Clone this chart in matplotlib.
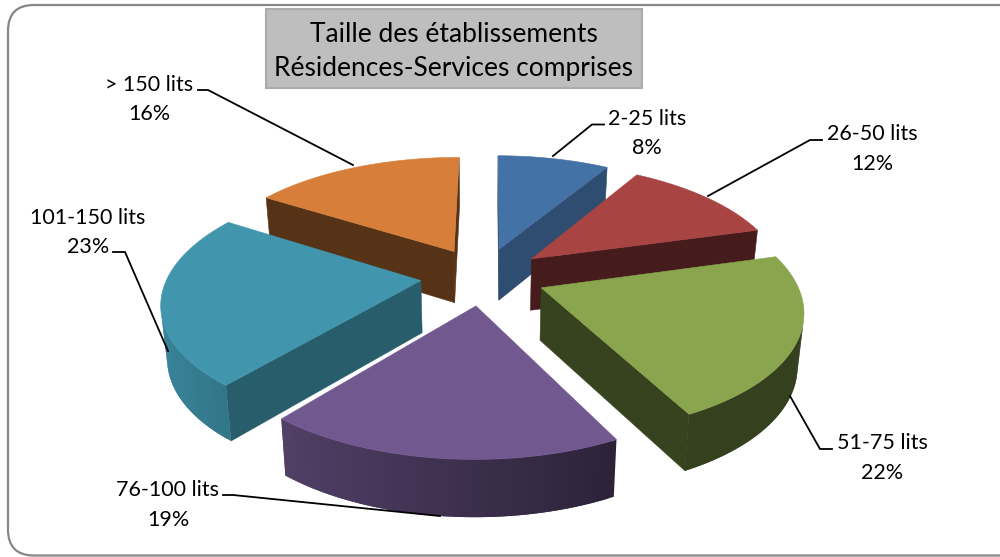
import numpy as np
import matplotlib
matplotlib.use("Agg")
import matplotlib.pyplot as plt
from matplotlib.patches import FancyBboxPatch, Polygon, Rectangle
from matplotlib.colors import to_rgb

# ---- data ----
categories = ["2-25 lits", "26-50 lits", "51-75 lits", "76-100 lits", "101-150 lits", "> 150 lits"]
percents = [8.49, 12.1, 21.8, 18.51, 23.0, 16.1]
title_lines = ["Taille des établissements", "Résidences-Services comprises"]

# ---- styles ----
top_colors = ["#4471A6", "#A84442", "#89A54D", "#71588F", "#4196AE", "#D77F3A"]
radial_shade = [0.68, 0.41, 0.40, 0.55, 0.62, 0.40]
draw_order = [0, 5, 1, 4, 2, 3]
label_xy = [(647, 133.5), (872, 149), (882, 458), (168, 505), (88, 232.5), (149, 99.5)]
leaders = [
    [(604, 124.5), (592, 124.5), (553, 156)],
    [(822, 140), (810, 140), (708, 196)],
    [(832, 449), (820, 449), (790, 396)],
    [(223, 495), (233, 495), (440, 516)],
    [(113, 252), (125, 252), (168, 351)],
    [(198, 90), (208, 90), (353, 165)],
]

# ---- projection parameters (pixels) ----
CX, CY = 483.0, 276.0
RX, RY = 253.0, 117.0
PERSP = 0.165
EXPLODE = 0.247
DROP = 52.0
BOTTOM_SCALE = 0.98
FIRST_ANGLE = np.deg2rad(0.3)
N_PER_PCT = 3


def project(x, y, bottom=False):
    x, y = np.asarray(x, float), np.asarray(y, float)
    w = 1 + PERSP * y
    sx, sy = RX * x / w, -RY * y / w
    if bottom:
        drop = DROP / (1 + 0.08 * y)
        sx = sx * BOTTOM_SCALE
        return CX + sx, CY + sy + drop
    return CX + sx, CY + sy


def shade(color, f):
    return tuple(c * f for c in to_rgb(color))


def visible(t0, t1, b1, b0):
    pts = np.array([t0, t1, b1, b0])
    x, y = pts[:, 0], pts[:, 1]
    return np.sum(x * np.roll(y, -1) - np.roll(x, -1) * y) < 0


fig = plt.figure(figsize=(10, 5.57), dpi=100)
ax = fig.add_axes([0, 0, 1, 1])
ax.set_xlim(0, 1000)
ax.set_ylim(557, 0)
ax.axis("off")
plt.rcParams["font.family"] = ["Lato", "DejaVu Sans"]

ax.add_patch(FancyBboxPatch((8, 5), 1020, 550.5, boxstyle="round,pad=0,rounding_size=26",
                            fc="white", ec="#868686", lw=1.6, zorder=0))
ax.add_patch(Rectangle((265.5, 9), 376, 79, fc="#BEBEBE", ec="#ABABAB", lw=1.5, zorder=1))
ax.text(453.5, 51.5, "\n".join(title_lines), ha="center", va="center", fontsize=19,
        linespacing=1.47, color="black", zorder=2)

bounds = FIRST_ANGLE + np.cumsum([0] + percents) / sum(percents) * 2 * np.pi
z = 3
for i in draw_order:
    a0, a1 = bounds[i], bounds[i + 1]
    mid = (a0 + a1) / 2
    ox, oy = EXPLODE * np.sin(mid), EXPLODE * np.cos(mid)
    n = max(2, int(percents[i] * N_PER_PCT))
    ang = np.linspace(a0, a1, n + 1)
    gx = np.concatenate([[ox], ox + np.sin(ang)])
    gy = np.concatenate([[oy], oy + np.cos(ang)])
    tx, ty = project(gx, gy)
    bx, by = project(gx, gy, bottom=True)
    base = top_colors[i]
    m = len(gx)
    # radial walls
    for j, k in ((0, 1), (m - 1, 0)):
        t0, t1, b1, b0 = (tx[j], ty[j]), (tx[k], ty[k]), (bx[k], by[k]), (bx[j], by[j])
        if visible(t0, t1, b1, b0):
            col = shade(base, radial_shade[i])
            ax.add_patch(Polygon([t0, t1, b1, b0], closed=True, fc=col, ec=col, lw=0.4, zorder=z))
    # outer wall: overlapping strips so that no seam shows
    for j in range(1, m - 1):
        k = j + 1
        t0, t1, b1, b0 = (tx[j], ty[j]), (tx[k], ty[k]), (bx[k], by[k]), (bx[j], by[j])
        if not visible(t0, t1, b1, b0):
            continue
        e = min(j + 2, m - 1)
        xm = (gx[j] + gx[k]) / 2
        col = shade(base, np.clip(0.52 - 0.30 * xm, 0.39, 0.88))
        ax.add_patch(Polygon([t0, (tx[k], ty[k]), (tx[e], ty[e]), (bx[e], by[e]), b1, b0],
                             closed=True, fc=col, ec="none", zorder=z))
    z += 1
    ax.add_patch(Polygon(np.column_stack([tx, ty]), closed=True, fc=base, ec=base, lw=0.4, zorder=z))
    z += 1

for i, name in enumerate(categories):
    xs, ys = zip(*leaders[i])
    ax.plot(xs, ys, color="black", lw=1.3, zorder=60, solid_joinstyle="miter")
    ax.text(label_xy[i][0], label_xy[i][1], f"{name}\n{round(percents[i])}%", ha="center", va="center",
            fontsize=15.5, linespacing=1.62, color="black", zorder=61)

fig.savefig("out.png", dpi=100)
